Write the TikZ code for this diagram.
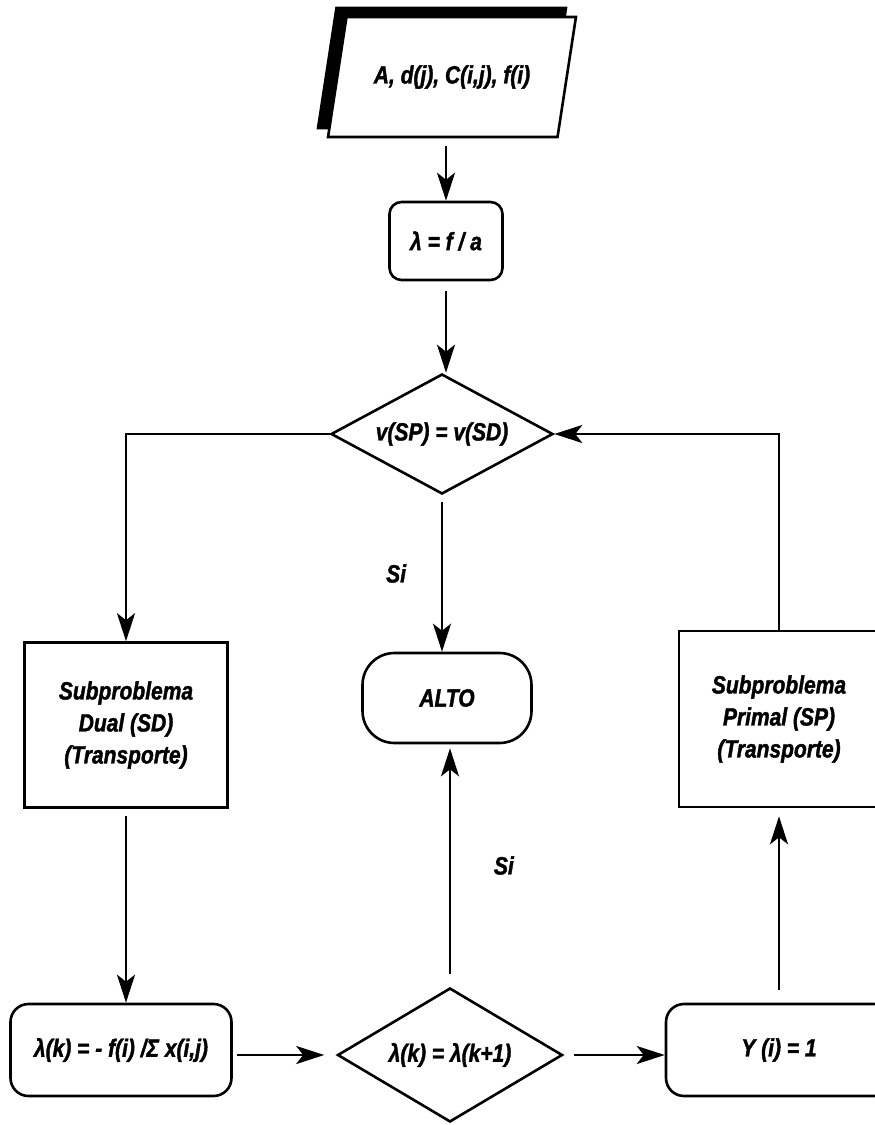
\documentclass[tikz,border=0pt]{standalone}
\usepackage{fontspec}
\setmainfont{Liberation Sans}[FakeStretch=0.84, BoldItalicFeatures={FakeBold=1.5}]
\usetikzlibrary{arrows.meta,positioning,shapes.geometric,shadows}

\begin{document}
\begin{tikzpicture}[
  x=0.5pt, y=-0.5pt,
  font=\fontsize{12.5}{16}\selectfont\bfseries\itshape,
  line width=1.3pt,
  >={Stealth[length=14pt, width=9pt, inset=3.5pt]},
  box/.style={draw, align=center, inner sep=2pt},
  rbox/.style={box, rounded corners=9pt},
  dec/.style={draw, diamond, aspect=1.8, inner sep=1pt},
  inp/.style={draw, trapezium, trapezium left angle=68, trapezium right angle=112,
    trapezium stretches=true, fill=white,
    copy shadow={shadow xshift=-5pt, shadow yshift=4.5pt, fill=black, draw=black}},
  lbl/.style={font=\fontsize{12.5}{14}\selectfont\bfseries\itshape},
  flow/.style={->},
]
  \useasboundingbox (0,0) rectangle (874,1125);

  % ---------------- top column ----------------
  \node[inp, minimum width=124.5pt, minimum height=60pt] (datos) at (452,77) {A, d(j), C(i,j), f(i)};
  \node[box, rounded corners=6pt, minimum width=56.5pt, minimum height=39pt] (lam0) at (446,241) {λ = f / a};
  \node[dec, minimum width=111pt, minimum height=60pt] (vsp) at (442,434) {v(SP) = v(SD)};

  % ---------------- middle row ----------------
  \node[box, minimum width=101.5pt, minimum height=82.5pt] (sd) at (126,725) {Subproblema\\ Dual (SD)\\ (Transporte)};
  \node[box, rounded corners=16pt, minimum width=84.5pt, minimum height=45pt] (alto) at (447,698) {ALTO};
  \node[box, minimum width=100pt, minimum height=88pt] (sp) at (779,719) {Subproblema\\ Primal (SP)\\ (Transporte)};

  % ---------------- bottom row ----------------
  \node[rbox, minimum width=110.5pt, minimum height=46pt] (lamk) at (121,1050) {λ(k) = - f(i) /Σ x(i,j)};
  \node[dec, minimum width=112.5pt, minimum height=67pt] (lkk) at (450,1055) {λ(k) = λ(k+1)};
  \node[rbox, minimum width=113pt, minimum height=46pt] (yi) at (779,1050) {Y (i) = 1};

  \draw[flow, shorten <=4pt] (lam0.north |- datos.south) -- (lam0.north);
  \draw[flow, shorten <=5pt] (lam0.south) -- (lam0.south |- vsp.north);
  \draw[flow] (vsp.west) -| (sd.north);
  \draw[flow, shorten <=3.5pt] (vsp.south) -- node[lbl, left=14pt] (si1) {Si} (vsp.south |- alto.north);
  \draw[flow, shorten <=3.5pt] (sd.south) -- (sd.south |- lamk.north);
  \draw[flow, shorten <=2pt, shorten >=6pt] (lamk.east |- lkk.west) -- (lkk.west);
  \draw[flow, shorten <=5pt] (lkk.east) -- (lkk.east -| yi.west);
  \draw[flow, shorten <=6.5pt, shorten >=2pt] (lkk.north) -- node[lbl, right=18pt] (si2) {Si} (lkk.north |- alto.south);
  \draw[flow, shorten <=6.5pt, shorten >=4pt] (yi.north) -- (sp.south);
  \draw[flow] (sp.north) |- (vsp.east);
\end{tikzpicture}
\end{document}
